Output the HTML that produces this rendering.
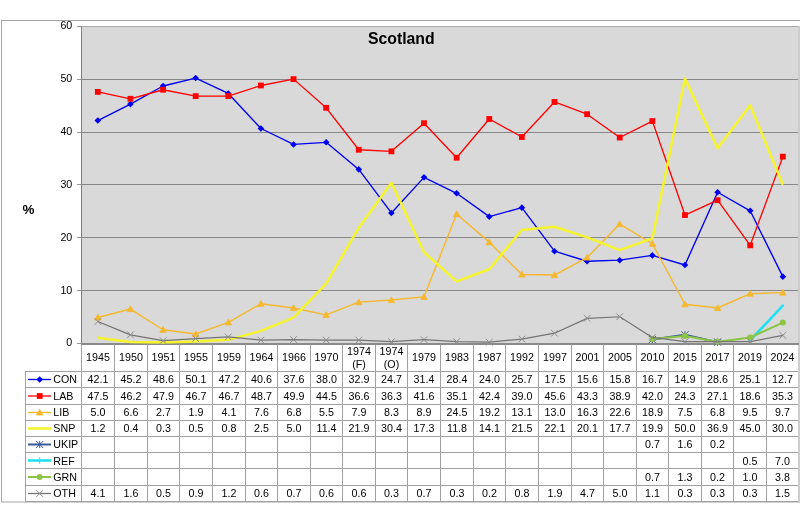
<!DOCTYPE html><html><head><meta charset="utf-8"><title>Scotland</title><style>html,body{margin:0;padding:0;background:#fff;width:800px;height:524px;overflow:hidden}svg{display:block}text{font-family:"Liberation Sans",Arial,sans-serif;fill:#000}</style></head><body>
<svg width="800" height="524" viewBox="0 0 800 524">
<rect x="1.5" y="20.5" width="805" height="481.5" fill="#fff" stroke="#a6a6a6" stroke-width="1"/>
<rect x="81" y="26" width="718" height="317" fill="#d9d9d9"/>
<line x1="81" y1="290.5" x2="799" y2="290.5" stroke="#888" stroke-width="1"/>
<line x1="81" y1="237.5" x2="799" y2="237.5" stroke="#888" stroke-width="1"/>
<line x1="81" y1="184.5" x2="799" y2="184.5" stroke="#888" stroke-width="1"/>
<line x1="81" y1="132.5" x2="799" y2="132.5" stroke="#888" stroke-width="1"/>
<line x1="81" y1="79.5" x2="799" y2="79.5" stroke="#888" stroke-width="1"/>
<line x1="81" y1="26.5" x2="799" y2="26.5" stroke="#a8a8a8" stroke-width="1"/>
<line x1="77" y1="343.5" x2="81" y2="343.5" stroke="#999" stroke-width="1"/>
<text x="72.3" y="346.4" font-size="10.7" text-anchor="end">0</text>
<line x1="77" y1="290.5" x2="81" y2="290.5" stroke="#999" stroke-width="1"/>
<text x="72.3" y="293.5" font-size="10.7" text-anchor="end">10</text>
<line x1="77" y1="237.5" x2="81" y2="237.5" stroke="#999" stroke-width="1"/>
<text x="72.3" y="240.6" font-size="10.7" text-anchor="end">20</text>
<line x1="77" y1="184.5" x2="81" y2="184.5" stroke="#999" stroke-width="1"/>
<text x="72.3" y="187.7" font-size="10.7" text-anchor="end">30</text>
<line x1="77" y1="132.5" x2="81" y2="132.5" stroke="#999" stroke-width="1"/>
<text x="72.3" y="134.8" font-size="10.7" text-anchor="end">40</text>
<line x1="77" y1="79.5" x2="81" y2="79.5" stroke="#999" stroke-width="1"/>
<text x="72.3" y="81.9" font-size="10.7" text-anchor="end">50</text>
<line x1="77" y1="26.5" x2="81" y2="26.5" stroke="#999" stroke-width="1"/>
<text x="72.3" y="29" font-size="10.7" text-anchor="end">60</text>
<text x="401.3" y="43.5" font-size="15.8" font-weight="bold" text-anchor="middle">Scotland</text>
<text x="28.4" y="213.7" font-size="13.4" font-weight="bold" text-anchor="middle">%</text>
<line x1="81.5" y1="343" x2="81.5" y2="502" stroke="#a0a0a0" stroke-width="1"/>
<line x1="114.5" y1="343" x2="114.5" y2="502" stroke="#a0a0a0" stroke-width="1"/>
<line x1="147.5" y1="343" x2="147.5" y2="502" stroke="#a0a0a0" stroke-width="1"/>
<line x1="179.5" y1="343" x2="179.5" y2="502" stroke="#a0a0a0" stroke-width="1"/>
<line x1="212.5" y1="343" x2="212.5" y2="502" stroke="#a0a0a0" stroke-width="1"/>
<line x1="245.5" y1="343" x2="245.5" y2="502" stroke="#a0a0a0" stroke-width="1"/>
<line x1="277.5" y1="343" x2="277.5" y2="502" stroke="#a0a0a0" stroke-width="1"/>
<line x1="310.5" y1="343" x2="310.5" y2="502" stroke="#a0a0a0" stroke-width="1"/>
<line x1="342.5" y1="343" x2="342.5" y2="502" stroke="#a0a0a0" stroke-width="1"/>
<line x1="375.5" y1="343" x2="375.5" y2="502" stroke="#a0a0a0" stroke-width="1"/>
<line x1="407.5" y1="343" x2="407.5" y2="502" stroke="#a0a0a0" stroke-width="1"/>
<line x1="440.5" y1="343" x2="440.5" y2="502" stroke="#a0a0a0" stroke-width="1"/>
<line x1="473.5" y1="343" x2="473.5" y2="502" stroke="#a0a0a0" stroke-width="1"/>
<line x1="505.5" y1="343" x2="505.5" y2="502" stroke="#a0a0a0" stroke-width="1"/>
<line x1="538.5" y1="343" x2="538.5" y2="502" stroke="#a0a0a0" stroke-width="1"/>
<line x1="571.5" y1="343" x2="571.5" y2="502" stroke="#a0a0a0" stroke-width="1"/>
<line x1="603.5" y1="343" x2="603.5" y2="502" stroke="#a0a0a0" stroke-width="1"/>
<line x1="636.5" y1="343" x2="636.5" y2="502" stroke="#a0a0a0" stroke-width="1"/>
<line x1="668.5" y1="343" x2="668.5" y2="502" stroke="#a0a0a0" stroke-width="1"/>
<line x1="701.5" y1="343" x2="701.5" y2="502" stroke="#a0a0a0" stroke-width="1"/>
<line x1="733.5" y1="343" x2="733.5" y2="502" stroke="#a0a0a0" stroke-width="1"/>
<line x1="766.5" y1="343" x2="766.5" y2="502" stroke="#a0a0a0" stroke-width="1"/>
<line x1="798.5" y1="343" x2="798.5" y2="502" stroke="#a0a0a0" stroke-width="1"/>
<line x1="25" y1="371.5" x2="799" y2="371.5" stroke="#a0a0a0" stroke-width="1"/>
<line x1="25" y1="387.5" x2="799" y2="387.5" stroke="#a0a0a0" stroke-width="1"/>
<line x1="25" y1="404.5" x2="799" y2="404.5" stroke="#a0a0a0" stroke-width="1"/>
<line x1="25" y1="420.5" x2="799" y2="420.5" stroke="#a0a0a0" stroke-width="1"/>
<line x1="25" y1="436.5" x2="799" y2="436.5" stroke="#a0a0a0" stroke-width="1"/>
<line x1="25" y1="452.5" x2="799" y2="452.5" stroke="#a0a0a0" stroke-width="1"/>
<line x1="25" y1="468.5" x2="799" y2="468.5" stroke="#a0a0a0" stroke-width="1"/>
<line x1="25" y1="485.5" x2="799" y2="485.5" stroke="#a0a0a0" stroke-width="1"/>
<line x1="25" y1="501.5" x2="799" y2="501.5" stroke="#a0a0a0" stroke-width="1"/>
<line x1="25.5" y1="371" x2="25.5" y2="502" stroke="#a0a0a0" stroke-width="1"/>
<rect x="798" y="26" width="2" height="476" fill="#cdcdcd"/>
<line x1="81.5" y1="26" x2="81.5" y2="344" stroke="#808080" stroke-width="1"/>
<text x="98" y="360.9" font-size="10.7" text-anchor="middle">1945</text>
<text x="131" y="360.9" font-size="10.7" text-anchor="middle">1950</text>
<text x="163.5" y="360.9" font-size="10.7" text-anchor="middle">1951</text>
<text x="196" y="360.9" font-size="10.7" text-anchor="middle">1955</text>
<text x="229" y="360.9" font-size="10.7" text-anchor="middle">1959</text>
<text x="261.5" y="360.9" font-size="10.7" text-anchor="middle">1964</text>
<text x="294" y="360.9" font-size="10.7" text-anchor="middle">1966</text>
<text x="326.5" y="360.9" font-size="10.7" text-anchor="middle">1970</text>
<text x="359" y="354.6" font-size="10.7" text-anchor="middle">1974</text>
<text x="359" y="368.1" font-size="10.7" text-anchor="middle">(F)</text>
<text x="391.5" y="354.6" font-size="10.7" text-anchor="middle">1974</text>
<text x="391.5" y="368.1" font-size="10.7" text-anchor="middle">(O)</text>
<text x="424" y="360.9" font-size="10.7" text-anchor="middle">1979</text>
<text x="457" y="360.9" font-size="10.7" text-anchor="middle">1983</text>
<text x="489.5" y="360.9" font-size="10.7" text-anchor="middle">1987</text>
<text x="522" y="360.9" font-size="10.7" text-anchor="middle">1992</text>
<text x="555" y="360.9" font-size="10.7" text-anchor="middle">1997</text>
<text x="587.5" y="360.9" font-size="10.7" text-anchor="middle">2001</text>
<text x="620" y="360.9" font-size="10.7" text-anchor="middle">2005</text>
<text x="652.5" y="360.9" font-size="10.7" text-anchor="middle">2010</text>
<text x="685" y="360.9" font-size="10.7" text-anchor="middle">2015</text>
<text x="717.5" y="360.9" font-size="10.7" text-anchor="middle">2017</text>
<text x="750" y="360.9" font-size="10.7" text-anchor="middle">2019</text>
<text x="782.5" y="360.9" font-size="10.7" text-anchor="middle">2024</text>
<line x1="28" y1="379.5" x2="51" y2="379.5" stroke="#0000f0" stroke-width="1.35"/>
<path d="M39.7,376.2L43,379.5L39.7,382.8L36.4,379.5Z" fill="#0000f0"/>
<text x="53.3" y="383.2" font-size="10.7">CON</text>
<text x="98" y="383.2" font-size="10.7" text-anchor="middle">42.1</text>
<text x="131" y="383.2" font-size="10.7" text-anchor="middle">45.2</text>
<text x="163.5" y="383.2" font-size="10.7" text-anchor="middle">48.6</text>
<text x="196" y="383.2" font-size="10.7" text-anchor="middle">50.1</text>
<text x="229" y="383.2" font-size="10.7" text-anchor="middle">47.2</text>
<text x="261.5" y="383.2" font-size="10.7" text-anchor="middle">40.6</text>
<text x="294" y="383.2" font-size="10.7" text-anchor="middle">37.6</text>
<text x="326.5" y="383.2" font-size="10.7" text-anchor="middle">38.0</text>
<text x="359" y="383.2" font-size="10.7" text-anchor="middle">32.9</text>
<text x="391.5" y="383.2" font-size="10.7" text-anchor="middle">24.7</text>
<text x="424" y="383.2" font-size="10.7" text-anchor="middle">31.4</text>
<text x="457" y="383.2" font-size="10.7" text-anchor="middle">28.4</text>
<text x="489.5" y="383.2" font-size="10.7" text-anchor="middle">24.0</text>
<text x="522" y="383.2" font-size="10.7" text-anchor="middle">25.7</text>
<text x="555" y="383.2" font-size="10.7" text-anchor="middle">17.5</text>
<text x="587.5" y="383.2" font-size="10.7" text-anchor="middle">15.6</text>
<text x="620" y="383.2" font-size="10.7" text-anchor="middle">15.8</text>
<text x="652.5" y="383.2" font-size="10.7" text-anchor="middle">16.7</text>
<text x="685" y="383.2" font-size="10.7" text-anchor="middle">14.9</text>
<text x="717.5" y="383.2" font-size="10.7" text-anchor="middle">28.6</text>
<text x="750" y="383.2" font-size="10.7" text-anchor="middle">25.1</text>
<text x="782.5" y="383.2" font-size="10.7" text-anchor="middle">12.7</text>
<line x1="28" y1="396" x2="51" y2="396" stroke="#ff0000" stroke-width="1.3"/>
<rect x="36.8" y="393.1" width="5.8" height="5.8" fill="#ff0000"/>
<text x="53.3" y="399.51" font-size="10.7">LAB</text>
<text x="98" y="399.51" font-size="10.7" text-anchor="middle">47.5</text>
<text x="131" y="399.51" font-size="10.7" text-anchor="middle">46.2</text>
<text x="163.5" y="399.51" font-size="10.7" text-anchor="middle">47.9</text>
<text x="196" y="399.51" font-size="10.7" text-anchor="middle">46.7</text>
<text x="229" y="399.51" font-size="10.7" text-anchor="middle">46.7</text>
<text x="261.5" y="399.51" font-size="10.7" text-anchor="middle">48.7</text>
<text x="294" y="399.51" font-size="10.7" text-anchor="middle">49.9</text>
<text x="326.5" y="399.51" font-size="10.7" text-anchor="middle">44.5</text>
<text x="359" y="399.51" font-size="10.7" text-anchor="middle">36.6</text>
<text x="391.5" y="399.51" font-size="10.7" text-anchor="middle">36.3</text>
<text x="424" y="399.51" font-size="10.7" text-anchor="middle">41.6</text>
<text x="457" y="399.51" font-size="10.7" text-anchor="middle">35.1</text>
<text x="489.5" y="399.51" font-size="10.7" text-anchor="middle">42.4</text>
<text x="522" y="399.51" font-size="10.7" text-anchor="middle">39.0</text>
<text x="555" y="399.51" font-size="10.7" text-anchor="middle">45.6</text>
<text x="587.5" y="399.51" font-size="10.7" text-anchor="middle">43.3</text>
<text x="620" y="399.51" font-size="10.7" text-anchor="middle">38.9</text>
<text x="652.5" y="399.51" font-size="10.7" text-anchor="middle">42.0</text>
<text x="685" y="399.51" font-size="10.7" text-anchor="middle">24.3</text>
<text x="717.5" y="399.51" font-size="10.7" text-anchor="middle">27.1</text>
<text x="750" y="399.51" font-size="10.7" text-anchor="middle">18.6</text>
<text x="782.5" y="399.51" font-size="10.7" text-anchor="middle">35.3</text>
<line x1="28" y1="412.5" x2="51" y2="412.5" stroke="#f6b82c" stroke-width="1.4"/>
<path d="M39.7,409.3L42.9,415.06L36.5,415.06Z" fill="#f6b82c" stroke="#f6b82c" stroke-width="0.8" stroke-linejoin="round"/>
<text x="53.3" y="415.82" font-size="10.7">LIB</text>
<text x="98" y="415.82" font-size="10.7" text-anchor="middle">5.0</text>
<text x="131" y="415.82" font-size="10.7" text-anchor="middle">6.6</text>
<text x="163.5" y="415.82" font-size="10.7" text-anchor="middle">2.7</text>
<text x="196" y="415.82" font-size="10.7" text-anchor="middle">1.9</text>
<text x="229" y="415.82" font-size="10.7" text-anchor="middle">4.1</text>
<text x="261.5" y="415.82" font-size="10.7" text-anchor="middle">7.6</text>
<text x="294" y="415.82" font-size="10.7" text-anchor="middle">6.8</text>
<text x="326.5" y="415.82" font-size="10.7" text-anchor="middle">5.5</text>
<text x="359" y="415.82" font-size="10.7" text-anchor="middle">7.9</text>
<text x="391.5" y="415.82" font-size="10.7" text-anchor="middle">8.3</text>
<text x="424" y="415.82" font-size="10.7" text-anchor="middle">8.9</text>
<text x="457" y="415.82" font-size="10.7" text-anchor="middle">24.5</text>
<text x="489.5" y="415.82" font-size="10.7" text-anchor="middle">19.2</text>
<text x="522" y="415.82" font-size="10.7" text-anchor="middle">13.1</text>
<text x="555" y="415.82" font-size="10.7" text-anchor="middle">13.0</text>
<text x="587.5" y="415.82" font-size="10.7" text-anchor="middle">16.3</text>
<text x="620" y="415.82" font-size="10.7" text-anchor="middle">22.6</text>
<text x="652.5" y="415.82" font-size="10.7" text-anchor="middle">18.9</text>
<text x="685" y="415.82" font-size="10.7" text-anchor="middle">7.5</text>
<text x="717.5" y="415.82" font-size="10.7" text-anchor="middle">6.8</text>
<text x="750" y="415.82" font-size="10.7" text-anchor="middle">9.5</text>
<text x="782.5" y="415.82" font-size="10.7" text-anchor="middle">9.7</text>
<line x1="28" y1="428.5" x2="51" y2="428.5" stroke="#f4f42c" stroke-width="2.5"/>
<text x="53.3" y="432.13" font-size="10.7">SNP</text>
<text x="98" y="432.13" font-size="10.7" text-anchor="middle">1.2</text>
<text x="131" y="432.13" font-size="10.7" text-anchor="middle">0.4</text>
<text x="163.5" y="432.13" font-size="10.7" text-anchor="middle">0.3</text>
<text x="196" y="432.13" font-size="10.7" text-anchor="middle">0.5</text>
<text x="229" y="432.13" font-size="10.7" text-anchor="middle">0.8</text>
<text x="261.5" y="432.13" font-size="10.7" text-anchor="middle">2.5</text>
<text x="294" y="432.13" font-size="10.7" text-anchor="middle">5.0</text>
<text x="326.5" y="432.13" font-size="10.7" text-anchor="middle">11.4</text>
<text x="359" y="432.13" font-size="10.7" text-anchor="middle">21.9</text>
<text x="391.5" y="432.13" font-size="10.7" text-anchor="middle">30.4</text>
<text x="424" y="432.13" font-size="10.7" text-anchor="middle">17.3</text>
<text x="457" y="432.13" font-size="10.7" text-anchor="middle">11.8</text>
<text x="489.5" y="432.13" font-size="10.7" text-anchor="middle">14.1</text>
<text x="522" y="432.13" font-size="10.7" text-anchor="middle">21.5</text>
<text x="555" y="432.13" font-size="10.7" text-anchor="middle">22.1</text>
<text x="587.5" y="432.13" font-size="10.7" text-anchor="middle">20.1</text>
<text x="620" y="432.13" font-size="10.7" text-anchor="middle">17.7</text>
<text x="652.5" y="432.13" font-size="10.7" text-anchor="middle">19.9</text>
<text x="685" y="432.13" font-size="10.7" text-anchor="middle">50.0</text>
<text x="717.5" y="432.13" font-size="10.7" text-anchor="middle">36.9</text>
<text x="750" y="432.13" font-size="10.7" text-anchor="middle">45.0</text>
<text x="782.5" y="432.13" font-size="10.7" text-anchor="middle">30.0</text>
<line x1="28" y1="444.5" x2="51" y2="444.5" stroke="#3a5a9a" stroke-width="2.0"/>
<path d="M36.1,440.9L43.3,448.1M36.1,448.1L43.3,440.9M39.7,440.9L39.7,448.1" stroke="#3a5a9a" stroke-width="1" fill="none"/>
<text x="53.3" y="448.44" font-size="10.7">UKIP</text>
<text x="652.5" y="448.44" font-size="10.7" text-anchor="middle">0.7</text>
<text x="685" y="448.44" font-size="10.7" text-anchor="middle">1.6</text>
<text x="717.5" y="448.44" font-size="10.7" text-anchor="middle">0.2</text>
<line x1="28" y1="460.5" x2="51" y2="460.5" stroke="#22e0f4" stroke-width="2.6"/>
<path d="M39.7,457.2L39.7,463.8" stroke="#22e0f4" stroke-width="1" fill="none"/>
<text x="53.3" y="464.75" font-size="10.7">REF</text>
<text x="750" y="464.75" font-size="10.7" text-anchor="middle">0.5</text>
<text x="782.5" y="464.75" font-size="10.7" text-anchor="middle">7.0</text>
<line x1="28" y1="477" x2="51" y2="477" stroke="#8cc444" stroke-width="2.0"/>
<circle cx="39.7" cy="477" r="3" fill="#8cc444"/>
<text x="53.3" y="481.06" font-size="10.7">GRN</text>
<text x="652.5" y="481.06" font-size="10.7" text-anchor="middle">0.7</text>
<text x="685" y="481.06" font-size="10.7" text-anchor="middle">1.3</text>
<text x="717.5" y="481.06" font-size="10.7" text-anchor="middle">0.2</text>
<text x="750" y="481.06" font-size="10.7" text-anchor="middle">1.0</text>
<text x="782.5" y="481.06" font-size="10.7" text-anchor="middle">3.8</text>
<line x1="28" y1="493.5" x2="51" y2="493.5" stroke="#747474" stroke-width="1.3"/>
<path d="M36.4,490.2L43,496.8M36.4,496.8L43,490.2" stroke="#8c8c8c" stroke-width="1" fill="none"/>
<text x="53.3" y="497.37" font-size="10.7">OTH</text>
<text x="98" y="497.37" font-size="10.7" text-anchor="middle">4.1</text>
<text x="131" y="497.37" font-size="10.7" text-anchor="middle">1.6</text>
<text x="163.5" y="497.37" font-size="10.7" text-anchor="middle">0.5</text>
<text x="196" y="497.37" font-size="10.7" text-anchor="middle">0.9</text>
<text x="229" y="497.37" font-size="10.7" text-anchor="middle">1.2</text>
<text x="261.5" y="497.37" font-size="10.7" text-anchor="middle">0.6</text>
<text x="294" y="497.37" font-size="10.7" text-anchor="middle">0.7</text>
<text x="326.5" y="497.37" font-size="10.7" text-anchor="middle">0.6</text>
<text x="359" y="497.37" font-size="10.7" text-anchor="middle">0.6</text>
<text x="391.5" y="497.37" font-size="10.7" text-anchor="middle">0.3</text>
<text x="424" y="497.37" font-size="10.7" text-anchor="middle">0.7</text>
<text x="457" y="497.37" font-size="10.7" text-anchor="middle">0.3</text>
<text x="489.5" y="497.37" font-size="10.7" text-anchor="middle">0.2</text>
<text x="522" y="497.37" font-size="10.7" text-anchor="middle">0.8</text>
<text x="555" y="497.37" font-size="10.7" text-anchor="middle">1.9</text>
<text x="587.5" y="497.37" font-size="10.7" text-anchor="middle">4.7</text>
<text x="620" y="497.37" font-size="10.7" text-anchor="middle">5.0</text>
<text x="652.5" y="497.37" font-size="10.7" text-anchor="middle">1.1</text>
<text x="685" y="497.37" font-size="10.7" text-anchor="middle">0.3</text>
<text x="717.5" y="497.37" font-size="10.7" text-anchor="middle">0.3</text>
<text x="750" y="497.37" font-size="10.7" text-anchor="middle">0.3</text>
<text x="782.5" y="497.37" font-size="10.7" text-anchor="middle">1.5</text>
<rect x="81" y="343" width="718" height="2" fill="#8a8a8a"/>
<polyline points="97.81,120.55 130.43,104.09 163.05,86.03 195.67,78.07 228.29,93.47 260.91,128.51 293.53,144.44 326.15,142.32 358.77,169.4 391.39,212.94 424.01,177.37 456.63,193.3 489.25,216.66 521.87,207.63 554.49,251.18 587.11,261.26 619.73,260.2 652.35,255.42 684.97,264.98 717.59,192.23 750.21,210.82 782.83,276.66" fill="none" stroke="#0000f0" stroke-width="1.35" stroke-linejoin="round" stroke-linecap="butt"/>
<path d="M97.81,117.25L101.11,120.55L97.81,123.85L94.51,120.55Z" fill="#0000f0"/>
<path d="M130.43,100.79L133.73,104.09L130.43,107.39L127.13,104.09Z" fill="#0000f0"/>
<path d="M163.05,82.73L166.35,86.03L163.05,89.33L159.75,86.03Z" fill="#0000f0"/>
<path d="M195.67,74.77L198.97,78.07L195.67,81.37L192.37,78.07Z" fill="#0000f0"/>
<path d="M228.29,90.17L231.59,93.47L228.29,96.77L224.99,93.47Z" fill="#0000f0"/>
<path d="M260.91,125.21L264.21,128.51L260.91,131.81L257.61,128.51Z" fill="#0000f0"/>
<path d="M293.53,141.14L296.83,144.44L293.53,147.74L290.23,144.44Z" fill="#0000f0"/>
<path d="M326.15,139.02L329.45,142.32L326.15,145.62L322.85,142.32Z" fill="#0000f0"/>
<path d="M358.77,166.1L362.07,169.4L358.77,172.7L355.47,169.4Z" fill="#0000f0"/>
<path d="M391.39,209.64L394.69,212.94L391.39,216.24L388.09,212.94Z" fill="#0000f0"/>
<path d="M424.01,174.07L427.31,177.37L424.01,180.67L420.71,177.37Z" fill="#0000f0"/>
<path d="M456.63,190L459.93,193.3L456.63,196.6L453.33,193.3Z" fill="#0000f0"/>
<path d="M489.25,213.36L492.55,216.66L489.25,219.96L485.95,216.66Z" fill="#0000f0"/>
<path d="M521.87,204.33L525.17,207.63L521.87,210.93L518.57,207.63Z" fill="#0000f0"/>
<path d="M554.49,247.88L557.79,251.18L554.49,254.48L551.19,251.18Z" fill="#0000f0"/>
<path d="M587.11,257.96L590.41,261.26L587.11,264.56L583.81,261.26Z" fill="#0000f0"/>
<path d="M619.73,256.9L623.03,260.2L619.73,263.5L616.43,260.2Z" fill="#0000f0"/>
<path d="M652.35,252.12L655.65,255.42L652.35,258.72L649.05,255.42Z" fill="#0000f0"/>
<path d="M684.97,261.68L688.27,264.98L684.97,268.28L681.67,264.98Z" fill="#0000f0"/>
<path d="M717.59,188.93L720.89,192.23L717.59,195.53L714.29,192.23Z" fill="#0000f0"/>
<path d="M750.21,207.52L753.51,210.82L750.21,214.12L746.91,210.82Z" fill="#0000f0"/>
<path d="M782.83,273.36L786.13,276.66L782.83,279.96L779.53,276.66Z" fill="#0000f0"/>
<polyline points="97.81,91.88 130.43,98.78 163.05,89.75 195.67,96.12 228.29,96.12 260.91,85.5 293.53,79.13 326.15,107.81 358.77,149.75 391.39,151.35 424.01,123.2 456.63,157.72 489.25,118.96 521.87,137.01 554.49,101.96 587.11,114.18 619.73,137.54 652.35,121.08 684.97,215.07 717.59,200.2 750.21,245.33 782.83,156.66" fill="none" stroke="#ff0000" stroke-width="1.3" stroke-linejoin="round" stroke-linecap="butt"/>
<rect x="94.91" y="88.98" width="5.8" height="5.8" fill="#ff0000"/>
<rect x="127.53" y="95.88" width="5.8" height="5.8" fill="#ff0000"/>
<rect x="160.15" y="86.85" width="5.8" height="5.8" fill="#ff0000"/>
<rect x="192.77" y="93.22" width="5.8" height="5.8" fill="#ff0000"/>
<rect x="225.39" y="93.22" width="5.8" height="5.8" fill="#ff0000"/>
<rect x="258.01" y="82.6" width="5.8" height="5.8" fill="#ff0000"/>
<rect x="290.63" y="76.23" width="5.8" height="5.8" fill="#ff0000"/>
<rect x="323.25" y="104.91" width="5.8" height="5.8" fill="#ff0000"/>
<rect x="355.87" y="146.85" width="5.8" height="5.8" fill="#ff0000"/>
<rect x="388.49" y="148.45" width="5.8" height="5.8" fill="#ff0000"/>
<rect x="421.11" y="120.3" width="5.8" height="5.8" fill="#ff0000"/>
<rect x="453.73" y="154.82" width="5.8" height="5.8" fill="#ff0000"/>
<rect x="486.35" y="116.06" width="5.8" height="5.8" fill="#ff0000"/>
<rect x="518.97" y="134.11" width="5.8" height="5.8" fill="#ff0000"/>
<rect x="551.59" y="99.06" width="5.8" height="5.8" fill="#ff0000"/>
<rect x="584.21" y="111.28" width="5.8" height="5.8" fill="#ff0000"/>
<rect x="616.83" y="134.64" width="5.8" height="5.8" fill="#ff0000"/>
<rect x="649.45" y="118.18" width="5.8" height="5.8" fill="#ff0000"/>
<rect x="682.07" y="212.17" width="5.8" height="5.8" fill="#ff0000"/>
<rect x="714.69" y="197.3" width="5.8" height="5.8" fill="#ff0000"/>
<rect x="747.31" y="242.43" width="5.8" height="5.8" fill="#ff0000"/>
<rect x="779.93" y="153.76" width="5.8" height="5.8" fill="#ff0000"/>
<polyline points="97.81,317.55 130.43,309.05 163.05,329.76 195.67,334.01 228.29,322.33 260.91,303.74 293.53,307.99 326.15,314.9 358.77,302.15 391.39,300.03 424.01,296.84 456.63,214.01 489.25,242.15 521.87,274.54 554.49,275.07 587.11,257.55 619.73,224.09 652.35,243.74 684.97,304.28 717.59,307.99 750.21,293.66 782.83,292.59" fill="none" stroke="#f6b82c" stroke-width="1.4" stroke-linejoin="round" stroke-linecap="butt"/>
<path d="M97.81,314.35L101.01,320.11L94.61,320.11Z" fill="#f6b82c" stroke="#f6b82c" stroke-width="0.8" stroke-linejoin="round"/>
<path d="M130.43,305.85L133.63,311.61L127.23,311.61Z" fill="#f6b82c" stroke="#f6b82c" stroke-width="0.8" stroke-linejoin="round"/>
<path d="M163.05,326.56L166.25,332.32L159.85,332.32Z" fill="#f6b82c" stroke="#f6b82c" stroke-width="0.8" stroke-linejoin="round"/>
<path d="M195.67,330.81L198.87,336.57L192.47,336.57Z" fill="#f6b82c" stroke="#f6b82c" stroke-width="0.8" stroke-linejoin="round"/>
<path d="M228.29,319.13L231.49,324.89L225.09,324.89Z" fill="#f6b82c" stroke="#f6b82c" stroke-width="0.8" stroke-linejoin="round"/>
<path d="M260.91,300.54L264.11,306.3L257.71,306.3Z" fill="#f6b82c" stroke="#f6b82c" stroke-width="0.8" stroke-linejoin="round"/>
<path d="M293.53,304.79L296.73,310.55L290.33,310.55Z" fill="#f6b82c" stroke="#f6b82c" stroke-width="0.8" stroke-linejoin="round"/>
<path d="M326.15,311.7L329.35,317.46L322.95,317.46Z" fill="#f6b82c" stroke="#f6b82c" stroke-width="0.8" stroke-linejoin="round"/>
<path d="M358.77,298.95L361.97,304.71L355.57,304.71Z" fill="#f6b82c" stroke="#f6b82c" stroke-width="0.8" stroke-linejoin="round"/>
<path d="M391.39,296.83L394.59,302.59L388.19,302.59Z" fill="#f6b82c" stroke="#f6b82c" stroke-width="0.8" stroke-linejoin="round"/>
<path d="M424.01,293.64L427.21,299.4L420.81,299.4Z" fill="#f6b82c" stroke="#f6b82c" stroke-width="0.8" stroke-linejoin="round"/>
<path d="M456.63,210.81L459.83,216.57L453.43,216.57Z" fill="#f6b82c" stroke="#f6b82c" stroke-width="0.8" stroke-linejoin="round"/>
<path d="M489.25,238.95L492.45,244.71L486.05,244.71Z" fill="#f6b82c" stroke="#f6b82c" stroke-width="0.8" stroke-linejoin="round"/>
<path d="M521.87,271.34L525.07,277.1L518.67,277.1Z" fill="#f6b82c" stroke="#f6b82c" stroke-width="0.8" stroke-linejoin="round"/>
<path d="M554.49,271.87L557.69,277.63L551.29,277.63Z" fill="#f6b82c" stroke="#f6b82c" stroke-width="0.8" stroke-linejoin="round"/>
<path d="M587.11,254.35L590.31,260.11L583.91,260.11Z" fill="#f6b82c" stroke="#f6b82c" stroke-width="0.8" stroke-linejoin="round"/>
<path d="M619.73,220.89L622.93,226.65L616.53,226.65Z" fill="#f6b82c" stroke="#f6b82c" stroke-width="0.8" stroke-linejoin="round"/>
<path d="M652.35,240.54L655.55,246.3L649.15,246.3Z" fill="#f6b82c" stroke="#f6b82c" stroke-width="0.8" stroke-linejoin="round"/>
<path d="M684.97,301.08L688.17,306.84L681.77,306.84Z" fill="#f6b82c" stroke="#f6b82c" stroke-width="0.8" stroke-linejoin="round"/>
<path d="M717.59,304.79L720.79,310.55L714.39,310.55Z" fill="#f6b82c" stroke="#f6b82c" stroke-width="0.8" stroke-linejoin="round"/>
<path d="M750.21,290.46L753.41,296.22L747.01,296.22Z" fill="#f6b82c" stroke="#f6b82c" stroke-width="0.8" stroke-linejoin="round"/>
<path d="M782.83,289.39L786.03,295.15L779.63,295.15Z" fill="#f6b82c" stroke="#f6b82c" stroke-width="0.8" stroke-linejoin="round"/>
<polyline points="97.81,337.73 130.43,341.98 163.05,342.51 195.67,341.45 228.29,339.85 260.91,330.83 293.53,317.55 326.15,283.57 358.77,227.81 391.39,182.68 424.01,252.24 456.63,281.44 489.25,269.23 521.87,229.94 554.49,226.75 587.11,237.37 619.73,250.11 652.35,238.43 684.97,78.6 717.59,148.16 750.21,105.15 782.83,184.8" fill="none" stroke="#f4f42c" stroke-width="2.5" stroke-linejoin="round" stroke-linecap="butt"/>
<polyline points="652.35,339.58 684.97,334.8 717.59,342.24" fill="none" stroke="#3a5a9a" stroke-width="2.0" stroke-linejoin="round" stroke-linecap="butt"/>
<path d="M648.75,335.98L655.95,343.18M648.75,343.18L655.95,335.98M652.35,335.98L652.35,343.18" stroke="#3a5a9a" stroke-width="1" fill="none"/>
<path d="M681.37,331.2L688.57,338.4M681.37,338.4L688.57,331.2M684.97,331.2L684.97,338.4" stroke="#3a5a9a" stroke-width="1" fill="none"/>
<path d="M713.99,338.64L721.19,345.84M713.99,345.84L721.19,338.64M717.59,338.64L717.59,345.84" stroke="#3a5a9a" stroke-width="1" fill="none"/>
<polyline points="750.21,340.25 782.83,305.73" fill="none" stroke="#22e0f4" stroke-width="2.6" stroke-linejoin="round" stroke-linecap="round"/>
<polyline points="652.35,339.08 684.97,335.9 717.59,341.74 750.21,337.49 782.83,322.62" fill="none" stroke="#8cc444" stroke-width="2.0" stroke-linejoin="round" stroke-linecap="butt"/>
<circle cx="652.35" cy="339.08" r="3" fill="#8cc444"/>
<circle cx="684.97" cy="335.9" r="3" fill="#8cc444"/>
<circle cx="717.59" cy="341.74" r="3" fill="#8cc444"/>
<circle cx="750.21" cy="337.49" r="3" fill="#8cc444"/>
<circle cx="782.83" cy="322.62" r="3" fill="#8cc444"/>
<polyline points="97.81,321.53 130.43,334.8 163.05,340.65 195.67,338.52 228.29,336.93 260.91,340.11 293.53,339.58 326.15,340.11 358.77,340.11 391.39,341.71 424.01,339.58 456.63,341.71 489.25,342.24 521.87,339.05 554.49,333.21 587.11,318.34 619.73,316.75 652.35,337.46 684.97,341.71 717.59,341.71 750.21,341.71 782.83,335.34" fill="none" stroke="#747474" stroke-width="1.25" stroke-linejoin="round" stroke-linecap="butt"/>
<path d="M94.51,318.23L101.11,324.83M94.51,324.83L101.11,318.23" stroke="#8c8c8c" stroke-width="1" fill="none"/>
<path d="M127.13,331.5L133.73,338.1M127.13,338.1L133.73,331.5" stroke="#8c8c8c" stroke-width="1" fill="none"/>
<path d="M159.75,337.35L166.35,343.95M159.75,343.95L166.35,337.35" stroke="#8c8c8c" stroke-width="1" fill="none"/>
<path d="M192.37,335.22L198.97,341.82M192.37,341.82L198.97,335.22" stroke="#8c8c8c" stroke-width="1" fill="none"/>
<path d="M224.99,333.63L231.59,340.23M224.99,340.23L231.59,333.63" stroke="#8c8c8c" stroke-width="1" fill="none"/>
<path d="M257.61,336.81L264.21,343.41M257.61,343.41L264.21,336.81" stroke="#8c8c8c" stroke-width="1" fill="none"/>
<path d="M290.23,336.28L296.83,342.88M290.23,342.88L296.83,336.28" stroke="#8c8c8c" stroke-width="1" fill="none"/>
<path d="M322.85,336.81L329.45,343.41M322.85,343.41L329.45,336.81" stroke="#8c8c8c" stroke-width="1" fill="none"/>
<path d="M355.47,336.81L362.07,343.41M355.47,343.41L362.07,336.81" stroke="#8c8c8c" stroke-width="1" fill="none"/>
<path d="M388.09,338.41L394.69,345.01M388.09,345.01L394.69,338.41" stroke="#8c8c8c" stroke-width="1" fill="none"/>
<path d="M420.71,336.28L427.31,342.88M420.71,342.88L427.31,336.28" stroke="#8c8c8c" stroke-width="1" fill="none"/>
<path d="M453.33,338.41L459.93,345.01M453.33,345.01L459.93,338.41" stroke="#8c8c8c" stroke-width="1" fill="none"/>
<path d="M485.95,338.94L492.55,345.54M485.95,345.54L492.55,338.94" stroke="#8c8c8c" stroke-width="1" fill="none"/>
<path d="M518.57,335.75L525.17,342.35M518.57,342.35L525.17,335.75" stroke="#8c8c8c" stroke-width="1" fill="none"/>
<path d="M551.19,329.91L557.79,336.51M551.19,336.51L557.79,329.91" stroke="#8c8c8c" stroke-width="1" fill="none"/>
<path d="M583.81,315.04L590.41,321.64M583.81,321.64L590.41,315.04" stroke="#8c8c8c" stroke-width="1" fill="none"/>
<path d="M616.43,313.45L623.03,320.05M616.43,320.05L623.03,313.45" stroke="#8c8c8c" stroke-width="1" fill="none"/>
<path d="M649.05,334.16L655.65,340.76M649.05,340.76L655.65,334.16" stroke="#8c8c8c" stroke-width="1" fill="none"/>
<path d="M681.67,338.41L688.27,345.01M681.67,345.01L688.27,338.41" stroke="#8c8c8c" stroke-width="1" fill="none"/>
<path d="M714.29,338.41L720.89,345.01M714.29,345.01L720.89,338.41" stroke="#8c8c8c" stroke-width="1" fill="none"/>
<path d="M746.91,338.41L753.51,345.01M746.91,345.01L753.51,338.41" stroke="#8c8c8c" stroke-width="1" fill="none"/>
<path d="M779.53,332.04L786.13,338.64M779.53,338.64L786.13,332.04" stroke="#8c8c8c" stroke-width="1" fill="none"/>
</svg></body></html>
